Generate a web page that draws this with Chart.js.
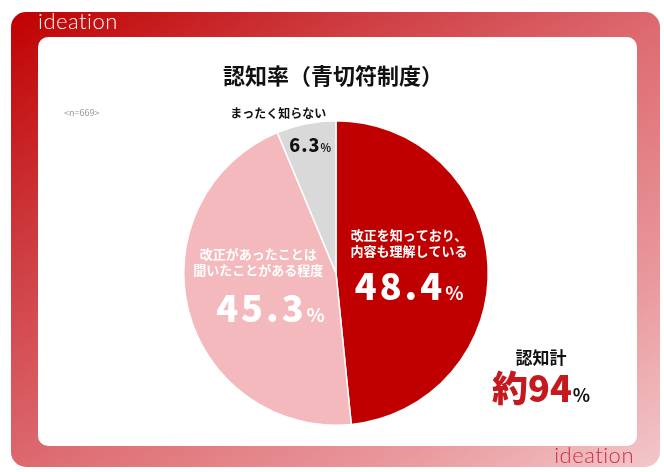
<!DOCTYPE html>
<html lang="ja">
<head>
<meta charset="utf-8">
<script src="https://cdn.jsdelivr.net/npm/chart.js@4"></script>
<style>
  html, body { margin: 0; padding: 0; background: #fff; }
  #wrap { width: 664px; height: 472px; }
</style>
</head>
<body>
<div id="wrap"><canvas id="pieChart" width="664" height="472"></canvas></div>
<script>
// data
const categories = ['改正を知っており、\n内容も理解している', '改正があったことは\n聞いたことがある程度', 'まったく知らない'];
const values = [48.4, 45.3, 6.3];
const colors = ['#c00000', '#f4b9bd', '#d9d9d9'];
const sampleSize = 669;

const JP = '"Noto Sans CJK JP", "Noto Sans", sans-serif';

// label placement relative to slice centre (units of radius)
const labelPos = [
  { name: [0.48, -0.25], num: [0.48, 0.09], color: '#fff', nameSize: 13, numSize: 36, pctSize: 19 },
  { name: [-0.51, -0.125], num: [-0.43, 0.235], color: '#fff', nameSize: 13, numSize: 36, pctSize: 19 },
  { name: [-0.38, -1.05], num: [-0.17, -0.84], color: '#111', nameSize: 12, numSize: 18, pctSize: 11 }
];

function roundRect(ctx, x, y, w, h, r) {
  ctx.beginPath();
  ctx.moveTo(x + r, y);
  ctx.arcTo(x + w, y, x + w, y + h, r);
  ctx.arcTo(x + w, y + h, x, y + h, r);
  ctx.arcTo(x, y + h, x, y, r);
  ctx.arcTo(x, y, x + w, y, r);
  ctx.closePath();
}

function drawPct(ctx, num, x, y, size, pctSize, color, spacing) {
  ctx.save();
  ctx.fillStyle = color;
  ctx.textBaseline = 'alphabetic';
  ctx.textAlign = 'left';
  ctx.font = `900 ${size}px ${JP}`;
  ctx.letterSpacing = spacing + 'px';
  const w1 = ctx.measureText(num).width;
  ctx.font = `bold ${pctSize}px ${JP}`;
  ctx.letterSpacing = '0px';
  const w2 = ctx.measureText('%').width;
  const start = x - (w1 + w2) / 2;
  const base = y + size * 0.36;
  ctx.font = `900 ${size}px ${JP}`;
  ctx.letterSpacing = spacing + 'px';
  ctx.fillText(num, start, base);
  ctx.font = `bold ${pctSize}px ${JP}`;
  ctx.letterSpacing = '0px';
  ctx.fillText('%', start + w1, base);
  ctx.restore();
}

const framePlugin = {
  id: 'frame',
  beforeDraw(chart) {
    const ctx = chart.ctx;
    ctx.save();
    // diagonal fade, top-left dark red to bottom-right pale pink
    const g = ctx.createLinearGradient(11, 12, 495, 702);
    g.addColorStop(0, '#c00000');
    g.addColorStop(0.23, '#cd3a3e');
    g.addColorStop(0.47, '#de6e74');
    g.addColorStop(0.7, '#e9999d');
    g.addColorStop(0.94, '#f5d5d8');
    g.addColorStop(1, '#f7dcdf');
    ctx.fillStyle = g;
    roundRect(ctx, 11, 12, 649, 455, 15);
    ctx.fill();
    ctx.fillStyle = '#fff';
    roundRect(ctx, 38, 37, 599, 409, 10);
    ctx.fill();

    // logos
    ctx.font = `300 22px Lato, "Noto Sans", sans-serif`;
    ctx.letterSpacing = '0.5px';
    ctx.textBaseline = 'middle';
    ctx.textAlign = 'left';
    ctx.fillStyle = '#fff';
    ctx.fillText('ideation', 38, 22);
    ctx.fillStyle = '#cc2c42';
    ctx.textAlign = 'right';
    ctx.fillText('ideation', 634, 456);
    ctx.letterSpacing = '0px';

    // title
    ctx.fillStyle = '#111';
    ctx.textAlign = 'center';
    ctx.font = `bold 22px ${JP}`;
    ctx.fillText('認知率（青切符制度）', 333, 76);

    ctx.font = `9px ${JP}`;
    ctx.fillStyle = '#999';
    ctx.textAlign = 'left';
    ctx.fillText(`<n=${sampleSize}>`, 64, 113);
    ctx.restore();
  },
  afterDraw(chart) {
    const ctx = chart.ctx;
    const arcs = chart.getDatasetMeta(0).data;
    const cx = arcs[0].x, cy = arcs[0].y, R = arcs[0].outerRadius;
    ctx.save();
    values.forEach((v, i) => {
      const p = labelPos[i];
      const lines = categories[i].split('\n');
      ctx.fillStyle = p.color;
      ctx.textAlign = 'center';
      ctx.textBaseline = 'middle';
      ctx.font = `bold ${p.nameSize}px ${JP}`;
      const lh = p.nameSize * 1.25;
      lines.forEach((l, k) => {
        ctx.fillText(l, cx + p.name[0] * R, cy + p.name[1] * R + k * lh);
      });
      drawPct(ctx, v.toFixed(1), cx + p.num[0] * R, cy + p.num[1] * R, p.numSize, p.pctSize, p.color, i < 2 ? 3 : 1);
    });

    // total awareness
    const total = Math.round(values[0] + values[1]);
    ctx.fillStyle = '#111';
    ctx.textAlign = 'center';
    ctx.textBaseline = 'middle';
    ctx.font = `bold 17px ${JP}`;
    ctx.fillText('認知計', 541, 358);
    ctx.textAlign = 'left';
    ctx.textBaseline = 'alphabetic';
    ctx.font = `900 36px ${JP}`;
    const t = '約' + total;
    const w = ctx.measureText(t).width;
    ctx.fillStyle = '#c41a1f';
    ctx.fillText(t, 492, 402);
    ctx.fillStyle = '#111';
    ctx.font = `bold 18px ${JP}`;
    ctx.fillText('%', 492 + w + 1, 402);
    ctx.restore();
  }
};

new Chart(document.getElementById('pieChart'), {
  type: 'pie',
  data: {
    labels: categories,
    datasets: [{
      data: values,
      backgroundColor: colors,
      borderColor: '#ffffff',
      borderWidth: 1.5
    }]
  },
  options: {
    responsive: false,
    animation: false,
    devicePixelRatio: 1,
    layout: { padding: { left: 183, right: 175, top: 120, bottom: 46 } },
    plugins: {
      legend: { display: false },
      tooltip: { enabled: false }
    }
  },
  plugins: [framePlugin]
});
</script>
</body>
</html>
